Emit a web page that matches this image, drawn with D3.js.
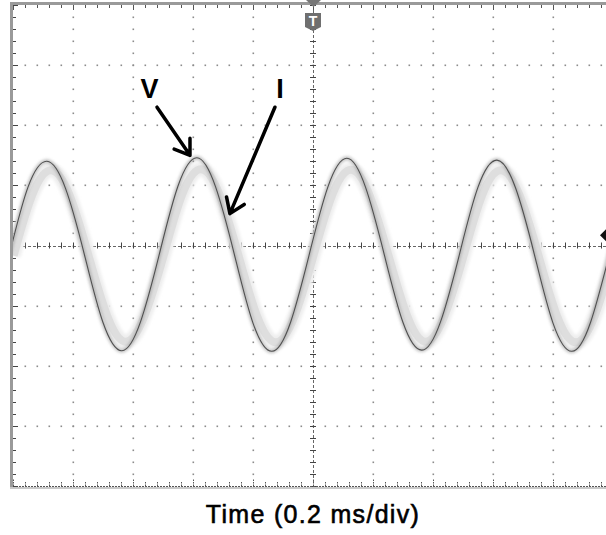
<!DOCTYPE html>
<html>
<head>
<meta charset="utf-8">
<script src="https://cdn.jsdelivr.net/npm/d3@7"></script>
<style>
  body { margin: 0; background: #fff; }
  svg { display: block; }
</style>
</head>
<body>
<svg id="scope" width="606" height="535"></svg>
<script>
// time in ms (0.2 ms/div, trigger at 0), levels in divisions
var vTime = [-1.012, -0.950, -0.887, -0.825, -0.762, -0.700, -0.637, -0.575,
             -0.512, -0.450, -0.387, -0.325, -0.262, -0.200, -0.137, -0.075,
             -0.012, 0.050, 0.113, 0.175, 0.238, 0.300, 0.363, 0.425,
             0.488, 0.550, 0.613, 0.675, 0.738, 0.800, 0.863, 0.925, 0.988, 1.050];
var vLevel = [-0.15, 0.97, 1.40, 0.95, -0.15, -1.28, -1.75, -1.27,
              -0.14, 0.99, 1.46, 0.98, -0.15, -1.29, -1.76, -1.28,
              -0.14, 0.98, 1.45, 0.97, -0.16, -1.28, -1.74, -1.27,
              -0.15, 0.97, 1.42, 0.96, -0.15, -1.29, -1.76, -1.28, -0.15, 0.98];

var iTime = [-0.998, -0.936, -0.873, -0.811, -0.748, -0.686, -0.623, -0.561,
             -0.498, -0.436, -0.373, -0.311, -0.248, -0.186, -0.123, -0.061,
             0.002, 0.064, 0.127, 0.189, 0.252, 0.314, 0.377, 0.439,
             0.502, 0.564, 0.627, 0.689, 0.752, 0.814, 0.877, 0.939, 1.002, 1.064];
var iLevel = [-0.17, 0.84, 1.25, 0.83, -0.17, -1.17, -1.60, -1.16,
              -0.17, 0.85, 1.27, 0.84, -0.17, -1.18, -1.61, -1.17,
              -0.16, 0.84, 1.26, 0.83, -0.17, -1.17, -1.60, -1.16,
              -0.17, 0.84, 1.25, 0.83, -0.17, -1.18, -1.61, -1.17, -0.17, 0.84];

var xLabel = "Time (0.2 ms/div)";
var traceNames = ["V", "I"];

var width = 606, height = 535;
var svg = d3.select("#scope");

// 10 x 8 divisions, right edge cut off by the picture
var x = d3.scaleLinear().domain([-1, 1]).range([13, 613]);
var y = d3.scaleLinear().domain([-4, 4]).range([486, 5]);

var minorX = d3.range(-1, 1.0001, 0.04);
var minorY = d3.range(-4, 4.0001, 0.2);
var majorX = d3.range(-0.8, 0.81, 0.2).filter(function (d) { return Math.abs(d) > 1e-6; });
var majorY = d3.range(-3, 3.01, 1).filter(function (d) { return Math.abs(d) > 1e-6; });

function px(v) { return Math.round(v) + 0.5; }
function isMajorX(t) { return Math.abs(t * 5 - Math.round(t * 5)) < 1e-6; }
function isMajorY(v) { return Math.abs(v - Math.round(v)) < 1e-6; }

var grid = svg.append("g").attr("class", "grid");

// dotted vertical graticule
majorX.forEach(function (t) {
  grid.selectAll(null)
    .data(minorY.slice(1, -1))
    .enter().append("rect")
    .attr("x", Math.round(x(t)) - 0.5)
    .attr("y", function (d) { return Math.round(y(d)) - 0.5; })
    .attr("width", 1.6).attr("height", 1.6)
    .attr("fill", "#8c8c8c");
});

// dotted horizontal graticule
majorY.forEach(function (v) {
  grid.selectAll(null)
    .data(minorX.slice(1))
    .enter().append("rect")
    .attr("x", function (d) { return Math.round(x(d)) - 0.5; })
    .attr("y", Math.round(y(v)) - 0.5)
    .attr("width", 1.6).attr("height", 1.6)
    .attr("fill", "#8c8c8c");
});

// centre axes with small ticks
grid.append("line")
  .attr("x1", x(-1)).attr("x2", width)
  .attr("y1", px(y(0))).attr("y2", px(y(0)))
  .attr("stroke", "#666").attr("stroke-dasharray", "3,2");
grid.append("line")
  .attr("x1", px(x(0))).attr("x2", px(x(0)))
  .attr("y1", y(4)).attr("y2", y(-4))
  .attr("stroke", "#666").attr("stroke-dasharray", "3,2");

grid.selectAll(".hx")
  .data(minorX)
  .enter().append("line")
  .attr("class", "hx")
  .attr("x1", function (d) { return px(x(d)); })
  .attr("x2", function (d) { return px(x(d)); })
  .attr("y1", y(0) - 3).attr("y2", y(0) + 3)
  .attr("stroke", "#444");
grid.selectAll(".vy")
  .data(minorY)
  .enter().append("line")
  .attr("class", "vy")
  .attr("x1", x(0) - 3).attr("x2", x(0) + 3)
  .attr("y1", function (d) { return px(y(d)); })
  .attr("y2", function (d) { return px(y(d)); })
  .attr("stroke", "#444");

// frame: left and top grey bars, bottom line
var frame = svg.append("g").attr("class", "frame");
frame.append("rect").attr("x", x(-1) - 3).attr("y", y(4) - 3)
  .attr("width", 3).attr("height", y(-4) - y(4) + 5).attr("fill", "#9a9a9a");
frame.append("rect").attr("x", x(-1) - 3).attr("y", y(4) - 3)
  .attr("width", width).attr("height", 3).attr("fill", "#9a9a9a");
frame.append("rect").attr("x", x(-1) - 3).attr("y", y(-4) + 1)
  .attr("width", width).attr("height", 2).attr("fill", "#c8c8c8");
frame.append("line")
  .attr("x1", x(-1)).attr("x2", width)
  .attr("y1", px(y(-4))).attr("y2", px(y(-4)))
  .attr("stroke", "#555").attr("stroke-dasharray", "2,1");

frame.selectAll(".tt")
  .data(minorX)
  .enter().append("line")
  .attr("class", "tt")
  .attr("x1", function (d) { return px(x(d)); })
  .attr("x2", function (d) { return px(x(d)); })
  .attr("y1", y(4)).attr("y2", function (d) { return y(4) + (isMajorX(d) ? 5 : 3); })
  .attr("stroke", "#555");
frame.selectAll(".bt")
  .data(minorX)
  .enter().append("line")
  .attr("class", "bt")
  .attr("x1", function (d) { return px(x(d)); })
  .attr("x2", function (d) { return px(x(d)); })
  .attr("y1", y(-4)).attr("y2", function (d) { return y(-4) - (isMajorX(d) ? 7 : 4); })
  .attr("stroke", "#555").attr("stroke-dasharray", "1.5,1");
frame.selectAll(".lt")
  .data(minorY)
  .enter().append("line")
  .attr("class", "lt")
  .attr("x1", x(-1)).attr("x2", function (d) { return x(-1) + (isMajorY(d) ? 5 : 3); })
  .attr("y1", function (d) { return px(y(d)); })
  .attr("y2", function (d) { return px(y(d)); })
  .attr("stroke", "#444");

// traces
svg.append("clipPath").attr("id", "plotclip")
  .append("rect")
  .attr("x", x(-1)).attr("y", y(4))
  .attr("width", width - x(-1)).attr("height", y(-4) - y(4));

var defs = svg.append("defs");
defs.append("filter").attr("id", "fuzz")
  .attr("x", "-5%").attr("y", "-5%").attr("width", "110%").attr("height", "110%")
  .append("feGaussianBlur").attr("stdDeviation", 1.4);

var line = d3.line()
  .x(function (d) { return x(d[0]); })
  .y(function (d) { return y(d[1]); })
  .curve(d3.curveNatural);

var vData = d3.zip(vTime, vLevel);
var iData = d3.zip(iTime, iLevel);

var traces = svg.append("g").attr("clip-path", "url(#plotclip)");

// current: broad light grey band
traces.append("path").datum(iData)
  .attr("d", line).attr("fill", "none")
  .attr("stroke", "#eeeeee").attr("stroke-width", 14)
  .attr("filter", "url(#fuzz)");
traces.append("path").datum(iData)
  .attr("d", line).attr("fill", "none")
  .attr("stroke", "#dedede").attr("stroke-width", 8);

// voltage: thin dark line with a grey halo
traces.append("path").datum(vData)
  .attr("d", line).attr("fill", "none")
  .attr("stroke", "#9a9a9a").attr("stroke-width", 4)
  .attr("opacity", 0.6).attr("filter", "url(#fuzz)");
traces.append("path").datum(vData)
  .attr("d", line).attr("fill", "none")
  .attr("stroke", "#505050").attr("stroke-width", 1.1);

// trigger marker
var tx = x(0);
svg.append("path")
  .attr("d", "M" + (tx - 7) + ",0L" + (tx + 8) + ",0L" + (tx + 0.5) + ",7Z")
  .attr("fill", "#777");
svg.append("path")
  .attr("d", "M" + (tx - 8) + ",13H" + (tx + 8) + "V27L" + tx + ",31L" + (tx - 8) + ",27Z")
  .attr("fill", "#6f6f6f");
svg.append("text")
  .attr("x", tx).attr("y", 26)
  .attr("text-anchor", "middle")
  .attr("font-family", "Liberation Sans, Arial, sans-serif")
  .attr("font-weight", "bold").attr("font-size", 14)
  .attr("fill", "#fff").text("T");

// channel level marker on the right edge
var my = y(0.17);
svg.append("path")
  .attr("d", "M" + 600 + "," + my + "L" + width + "," + (my - 6) + "L" + width + "," + (my + 6) + "Z")
  .attr("fill", "#111");

// annotations: label position and arrow in data units
var notes = [
  { name: traceNames[0], label: [-0.545, 2.62], from: [-0.52, 2.30], to: [-0.41, 1.50] },
  { name: traceNames[1], label: [-0.11, 2.62], from: [-0.127, 2.30], to: [-0.277, 0.53] }
];

var ann = svg.append("g").attr("class", "notes");
notes.forEach(function (n) {
  var x1 = x(n.from[0]), y1 = y(n.from[1]);
  var x2 = x(n.to[0]), y2 = y(n.to[1]);
  var ang = Math.atan2(y2 - y1, x2 - x1);
  var len = 17, spread = 0.6;
  var a1 = [x2 - len * Math.cos(ang - spread), y2 - len * Math.sin(ang - spread)];
  var a2 = [x2 - len * Math.cos(ang + spread), y2 - len * Math.sin(ang + spread)];

  ann.append("path")
    .attr("d", "M" + x1 + "," + y1 + "L" + x2 + "," + y2 +
      "M" + a1[0] + "," + a1[1] + "L" + x2 + "," + y2 + "L" + a2[0] + "," + a2[1])
    .attr("fill", "none")
    .attr("stroke", "#000").attr("stroke-width", 3.5)
    .attr("stroke-linecap", "round").attr("stroke-linejoin", "round");

  ann.append("text")
    .attr("x", x(n.label[0])).attr("y", y(n.label[1]) + 10)
    .attr("text-anchor", "middle")
    .attr("font-family", "Liberation Sans, Arial, sans-serif")
    .attr("font-weight", "bold").attr("font-size", 27)
    .attr("fill", "#000").text(n.name);
});

// axis title
svg.append("text")
  .attr("x", x(0)).attr("y", 523)
  .attr("text-anchor", "middle")
  .attr("font-family", "Liberation Sans, Arial, sans-serif")
  .attr("font-size", 25)
  .attr("letter-spacing", 1.3)
  .attr("stroke", "#000").attr("stroke-width", 0.6)
  .attr("fill", "#000").text(xLabel);
</script>
</body>
</html>
